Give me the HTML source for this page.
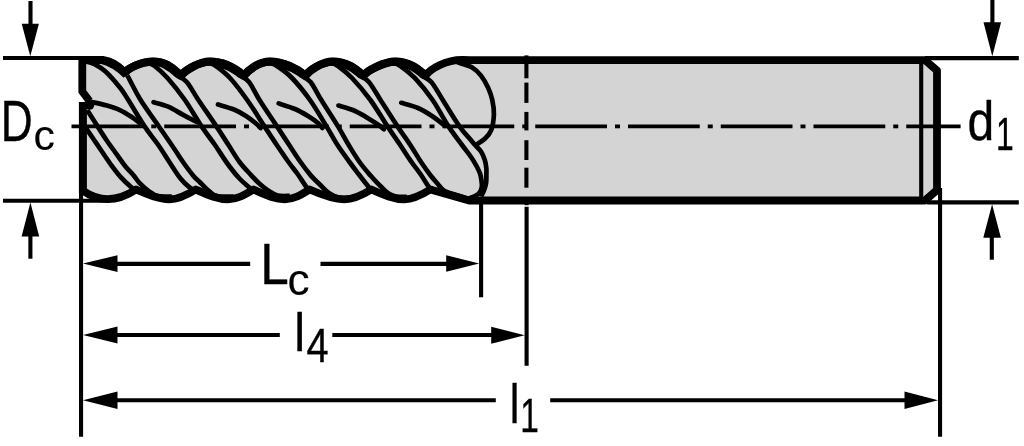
<!DOCTYPE html>
<html><head><meta charset="utf-8"><title>End mill dimensions</title>
<style>html,body{margin:0;padding:0;background:#fff;overflow:hidden}svg{display:block}text{font-family:"Liberation Sans",sans-serif}</style>
</head><body>
<svg width="1024" height="446" viewBox="0 0 1024 446">
<path d="M 82.3 60.2 L 104 60.2 Q 114.5 61.5 125.0 72.6 C 129.00 67.60 141.95 61.6 152.95 61.6 C 166.95 61.6 172.90 68.60 180.9 75.6 C 184.90 70.60 198.83 61.6 209.83 61.6 C 223.83 61.6 235.80 68.60 243.8 75.6 C 247.80 70.60 258.67 61.6 269.67 61.6 C 283.67 61.6 297.40 68.60 305.4 75.6 C 309.40 70.60 321.66 61.6 332.66 61.6 C 346.66 61.6 355.40 68.60 363.4 75.6 C 367.40 70.60 384.12 61.6 395.12 61.6 C 409.12 61.6 417.60 68.60 425.6 75.6 C 430 69.3 445.5 59.6 463 59.9 L 470 60.1 L 925 60.1 L 937.0 70.5 L 937.0 190 L 925 200.5 L 469 200.5 L 430.4 189.5 C 421.40 195.10 413.44 199.3 404.44 199.3 C 393.44 199.3 383.40 194.80 371.4 189.5 C 362.40 195.10 353.21 199.3 344.21 199.3 C 333.21 199.3 321.60 194.80 309.6 189.5 C 300.60 195.10 293.92 199.3 284.92 199.3 C 273.92 199.3 265.50 194.80 253.5 189.5 C 244.50 195.10 237.11 199.3 228.11 199.3 C 217.11 199.3 207.80 194.80 195.8 189.5 C 186.80 195.10 178.53 199.3 169.53 199.3 C 158.53 199.3 148.10 194.80 136.1 189.5 Q 108 208 83.3 191 L 82.3 103 L 88 98 L 82.3 92 Z" fill="#d4d4d4" stroke="none"/>
<path d="M 86.00 128.20 C 87.35 130.17 91.62 136.37 94.10 140.00 C 96.58 143.63 97.93 145.67 100.90 150.00 C 103.87 154.33 108.63 161.52 111.90 166.00 C 115.17 170.48 117.22 173.30 120.50 176.90 C 123.78 180.50 129.00 185.33 131.60 187.60 C 134.20 189.87 135.35 190.02 136.10 190.50 " fill="none" stroke="#000" stroke-width="4.7" stroke-linejoin="round" stroke-linecap="butt"/>
<path d="M 88.00 62.00 C 89.00 62.33 91.08 62.42 94.00 64.00 C 96.92 65.58 101.12 67.50 105.50 71.50 C 109.88 75.50 116.50 83.25 120.30 88.00 C 124.10 92.75 124.25 93.60 128.30 100.00 C 132.35 106.40 139.60 118.90 144.60 126.40 C 149.60 133.90 154.07 138.90 158.30 145.00 C 162.53 151.10 166.30 157.42 170.00 163.00 C 173.70 168.58 177.25 174.45 180.50 178.50 C 183.75 182.55 186.95 185.30 189.50 187.30 C 192.05 189.30 194.75 189.97 195.80 190.50 " fill="none" stroke="#000" stroke-width="4.7" stroke-linejoin="round" stroke-linecap="butt"/>
<path d="M 148.00 62.80 C 149.10 63.33 151.35 63.47 154.60 66.00 C 157.85 68.53 162.45 72.33 167.50 78.00 C 172.55 83.67 179.22 91.93 184.90 100.00 C 190.58 108.07 196.58 118.90 201.60 126.40 C 206.62 133.90 210.77 138.90 215.00 145.00 C 219.23 151.10 223.08 157.58 227.00 163.00 C 230.92 168.42 234.83 173.47 238.50 177.50 C 242.17 181.53 246.50 185.03 249.00 187.20 C 251.50 189.37 252.75 189.95 253.50 190.50 " fill="none" stroke="#000" stroke-width="4.7" stroke-linejoin="round" stroke-linecap="butt"/>
<path d="M 209.40 62.80 C 210.50 63.33 212.57 63.47 216.00 66.00 C 219.43 68.53 224.80 72.33 230.00 78.00 C 235.20 83.67 241.45 91.93 247.20 100.00 C 252.95 108.07 259.57 118.90 264.50 126.40 C 269.43 133.90 272.80 139.07 276.80 145.00 C 280.80 150.93 285.03 157.17 288.50 162.00 C 291.97 166.83 294.68 169.92 297.60 174.00 C 300.52 178.08 304.00 183.75 306.00 186.50 C 308.00 189.25 309.00 189.83 309.60 190.50 " fill="none" stroke="#000" stroke-width="4.7" stroke-linejoin="round" stroke-linecap="butt"/>
<path d="M 270.40 62.80 C 271.50 63.33 273.40 63.47 277.00 66.00 C 280.60 68.53 286.50 72.33 292.00 78.00 C 297.50 83.67 304.25 91.93 310.00 100.00 C 315.75 108.07 321.92 118.90 326.50 126.40 C 331.08 133.90 333.67 139.07 337.50 145.00 C 341.33 150.93 346.00 157.17 349.50 162.00 C 353.00 166.83 355.50 170.08 358.50 174.00 C 361.50 177.92 365.35 182.83 367.50 185.50 C 369.65 188.17 370.75 189.25 371.40 190.00 " fill="none" stroke="#000" stroke-width="4.7" stroke-linejoin="round" stroke-linecap="butt"/>
<path d="M 331.40 62.80 C 332.50 63.33 334.57 63.47 338.00 66.00 C 341.43 68.53 346.60 72.33 352.00 78.00 C 357.40 83.67 364.48 91.93 370.40 100.00 C 376.32 108.07 382.53 118.90 387.50 126.40 C 392.47 133.90 396.20 139.07 400.20 145.00 C 404.20 150.93 408.13 157.17 411.50 162.00 C 414.87 166.83 417.73 170.17 420.40 174.00 C 423.07 177.83 425.83 182.42 427.50 185.00 C 429.17 187.58 429.92 188.75 430.40 189.50 " fill="none" stroke="#000" stroke-width="4.7" stroke-linejoin="round" stroke-linecap="butt"/>
<path d="M 394.40 62.80 C 395.47 63.38 397.37 63.73 400.80 66.30 C 404.23 68.87 409.70 72.58 415.00 78.20 C 420.30 83.82 427.02 91.97 432.60 100.00 C 438.18 108.03 443.60 118.90 448.50 126.40 C 453.40 133.90 458.25 139.90 462.00 145.00 C 465.75 150.10 468.58 153.50 471.00 157.00 C 473.42 160.50 474.97 163.17 476.50 166.00 C 478.03 168.83 479.35 171.40 480.20 174.00 C 481.05 176.60 481.33 179.43 481.60 181.60 C 481.87 183.77 482.10 185.22 481.80 187.00 C 481.50 188.78 480.93 190.80 479.80 192.30 C 478.67 193.80 476.80 194.97 475.00 196.00 C 473.20 197.03 470.00 198.08 469.00 198.50 " fill="none" stroke="#000" stroke-width="4.7" stroke-linejoin="round" stroke-linecap="butt"/>
<path d="M 92.00 102.00 C 94.33 102.55 101.35 103.95 106.00 105.30 C 110.65 106.65 115.73 108.23 119.90 110.10 C 124.07 111.97 127.43 114.17 131.00 116.50 C 134.57 118.83 139.58 122.83 141.30 124.10 " fill="none" stroke="#000" stroke-width="4.7" stroke-linejoin="round" stroke-linecap="round"/>
<path d="M 153.50 102.20 C 155.93 102.95 163.23 104.63 168.10 106.70 C 172.97 108.77 178.02 112.08 182.70 114.60 C 187.38 117.12 193.95 120.60 196.20 121.80 " fill="none" stroke="#000" stroke-width="4.7" stroke-linejoin="round" stroke-linecap="round"/>
<path d="M 218.00 104.50 C 220.67 105.33 229.33 107.58 234.00 109.50 C 238.67 111.42 242.33 113.67 246.00 116.00 C 249.67 118.33 253.57 121.50 256.00 123.50 C 258.43 125.50 259.83 127.25 260.60 128.00 " fill="none" stroke="#000" stroke-width="4.7" stroke-linejoin="round" stroke-linecap="round"/>
<path d="M 278.60 103.40 C 281.33 104.33 290.10 106.90 295.00 109.00 C 299.90 111.10 304.17 113.67 308.00 116.00 C 311.83 118.33 315.60 121.00 318.00 123.00 C 320.40 125.00 321.67 127.17 322.40 128.00 " fill="none" stroke="#000" stroke-width="4.7" stroke-linejoin="round" stroke-linecap="round"/>
<path d="M 338.40 105.60 C 341.17 106.50 349.73 108.68 355.00 111.00 C 360.27 113.32 365.83 117.00 370.00 119.50 C 374.17 122.00 377.68 124.38 380.00 126.00 C 382.32 127.62 383.25 128.67 383.90 129.20 " fill="none" stroke="#000" stroke-width="4.7" stroke-linejoin="round" stroke-linecap="round"/>
<path d="M 401.20 102.80 C 404.00 103.67 412.87 105.80 418.00 108.00 C 423.13 110.20 427.50 113.03 432.00 116.00 C 436.50 118.97 442.83 124.17 445.00 125.80 " fill="none" stroke="#000" stroke-width="4.7" stroke-linejoin="round" stroke-linecap="round"/>
<path d="M 454.00 61.00 C 455.08 61.38 457.42 62.17 460.50 63.30 C 463.58 64.43 469.08 65.75 472.50 67.80 C 475.92 69.85 478.42 72.32 481.00 75.60 C 483.58 78.88 486.12 83.43 488.00 87.50 C 489.88 91.57 491.32 95.48 492.30 100.00 C 493.28 104.52 494.10 109.55 493.90 114.60 C 493.70 119.65 492.67 126.23 491.10 130.30 C 489.53 134.37 486.93 136.65 484.50 139.00 C 482.07 141.35 477.83 143.50 476.50 144.40 " fill="none" stroke="#000" stroke-width="4.7" stroke-linejoin="round" stroke-linecap="butt"/>
<path d="M 87.30 110.20 C 88.42 111.97 90.82 115.83 94.00 120.80 C 97.18 125.77 103.13 135.13 106.40 140.00 C 109.67 144.87 110.48 145.67 113.60 150.00 C 116.72 154.33 121.75 161.77 125.10 166.00 C 128.45 170.23 131.25 172.53 133.67 175.40 C 136.10 178.26 137.13 180.58 139.64 183.19 C 142.15 185.80 145.73 188.91 148.75 191.06 C 151.78 193.22 153.95 195.24 157.78 196.14 C 161.62 197.05 169.42 196.44 171.75 196.50 " fill="none" stroke="#000" stroke-width="4.7" stroke-linejoin="round" stroke-linecap="butt"/>
<path d="M 127.40 75.50 C 129.60 79.58 135.63 91.92 140.60 100.00 C 145.57 108.08 152.02 116.50 157.20 124.00 C 162.38 131.50 167.40 138.67 171.70 145.00 C 176.00 151.33 179.40 156.90 183.00 162.00 C 186.60 167.10 190.49 172.29 193.27 175.63 C 196.05 178.96 197.41 179.76 199.67 182.03 C 201.94 184.29 204.53 187.09 206.85 189.20 C 209.17 191.31 211.53 193.45 213.61 194.67 C 215.69 195.88 215.99 196.19 219.32 196.49 C 222.65 196.80 231.22 196.50 233.60 196.50 " fill="none" stroke="#000" stroke-width="4.7" stroke-linejoin="round" stroke-linecap="butt"/>
<path d="M 152.95 62.68 C 154.13 62.95 157.96 63.59 160.04 64.29 C 162.11 64.98 163.72 65.94 165.39 66.85 C 167.07 67.76 168.57 68.65 170.09 69.74 C 171.62 70.83 173.42 72.45 174.54 73.40 C 175.66 74.35 174.77 74.01 176.81 75.44 C 178.85 76.87 183.16 77.91 186.76 82.00 C 190.36 86.09 193.46 92.60 198.40 100.00 C 203.34 107.40 211.38 118.90 216.40 126.40 C 221.42 133.90 224.65 139.07 228.50 145.00 C 232.35 150.93 235.66 156.90 239.50 162.00 C 243.34 167.10 248.30 172.04 251.54 175.59 C 254.78 179.14 256.21 180.82 258.95 183.30 C 261.70 185.79 264.93 188.48 268.03 190.52 C 271.13 192.55 273.94 194.64 277.56 195.53 C 281.17 196.43 287.71 195.84 289.74 195.90 " fill="none" stroke="#000" stroke-width="4.7" stroke-linejoin="round" stroke-linecap="butt"/>
<path d="M 209.83 62.68 C 211.13 62.95 215.14 63.59 217.61 64.30 C 220.07 65.01 222.37 66.01 224.63 66.95 C 226.89 67.89 229.11 68.83 231.18 69.93 C 233.25 71.04 235.62 72.64 237.04 73.58 C 238.45 74.51 237.68 74.14 239.67 75.55 C 241.67 76.95 245.70 77.92 249.01 82.00 C 252.31 86.08 254.83 92.60 259.50 100.00 C 264.17 107.40 272.05 118.90 277.00 126.40 C 281.95 133.90 285.28 139.07 289.20 145.00 C 293.12 150.93 296.87 156.90 300.50 162.00 C 304.13 167.10 307.76 171.88 310.97 175.63 C 314.19 179.37 316.83 181.57 319.80 184.45 C 322.77 187.33 325.59 190.69 328.79 192.89 C 331.98 195.09 335.60 196.80 338.96 197.63 C 342.32 198.47 347.29 197.86 348.95 197.90 " fill="none" stroke="#000" stroke-width="4.7" stroke-linejoin="round" stroke-linecap="butt"/>
<path d="M 269.67 62.68 C 271.00 62.95 275.06 63.59 277.64 64.30 C 280.22 65.02 282.71 66.02 285.14 66.97 C 287.57 67.91 290.00 68.86 292.23 69.97 C 294.46 71.08 297.01 72.68 298.51 73.62 C 300.02 74.55 299.25 74.18 301.26 75.57 C 303.27 76.97 307.24 77.93 310.58 82.00 C 313.92 86.07 316.73 92.60 321.30 100.00 C 325.87 107.40 333.43 118.90 338.00 126.40 C 342.57 133.90 345.12 139.07 348.70 145.00 C 352.28 150.93 355.86 156.91 359.50 162.00 C 363.14 167.09 367.31 171.83 370.52 175.57 C 373.73 179.30 376.16 181.73 378.75 184.40 C 381.34 187.07 383.78 189.75 386.05 191.58 C 388.32 193.42 390.40 194.53 392.36 195.40 C 394.32 196.27 395.39 196.56 397.80 196.79 C 400.20 197.02 405.30 196.80 406.80 196.80 " fill="none" stroke="#000" stroke-width="4.7" stroke-linejoin="round" stroke-linecap="butt"/>
<path d="M 332.66 62.68 C 333.89 62.95 337.81 63.59 340.07 64.29 C 342.32 65.00 344.26 65.98 346.21 66.90 C 348.16 67.83 349.99 68.75 351.77 69.85 C 353.54 70.94 355.61 72.55 356.86 73.49 C 358.11 74.43 357.29 74.07 359.29 75.49 C 361.29 76.91 365.32 77.92 368.86 82.00 C 372.39 86.08 375.73 92.60 380.50 100.00 C 385.27 107.40 392.53 118.90 397.50 126.40 C 402.47 133.90 406.38 139.07 410.30 145.00 C 414.22 150.93 417.61 156.92 421.00 162.00 C 424.39 167.08 427.87 171.88 430.65 175.49 C 433.43 179.11 435.42 181.14 437.66 183.71 C 439.90 186.27 441.01 188.99 444.11 190.87 C 447.22 192.75 452.30 193.67 456.28 194.98 C 460.26 196.30 466.04 198.15 467.99 198.79 " fill="none" stroke="#000" stroke-width="4.7" stroke-linejoin="round" stroke-linecap="butt"/>
<path d="M 395.12 62.68 C 396.35 62.95 400.26 63.59 402.50 64.29 C 404.74 65.00 406.64 65.98 408.56 66.90 C 410.49 67.82 412.29 68.74 414.05 69.84 C 415.80 70.94 417.84 72.54 419.08 73.49 C 420.32 74.43 419.46 74.07 421.50 75.49 C 423.53 76.91 427.76 77.91 431.31 82.00 C 434.86 86.09 438.10 92.60 442.80 100.00 C 447.50 107.40 454.97 119.90 459.50 126.40 C 464.03 132.90 467.42 135.90 470.00 139.00 C 472.58 142.10 473.17 142.92 475.00 145.00 C 476.83 147.08 479.37 149.00 481.00 151.50 C 482.63 154.00 483.92 157.25 484.80 160.00 C 485.68 162.75 486.03 165.67 486.30 168.00 C 486.57 170.33 486.43 171.53 486.40 174.00 C 486.37 176.47 486.50 180.07 486.10 182.80 C 485.70 185.53 484.85 188.12 484.00 190.40 C 483.15 192.68 481.50 195.48 481.00 196.50 " fill="none" stroke="#000" stroke-width="4.7" stroke-linejoin="round" stroke-linecap="butt"/>
<path d="M 101 61.5 Q 113.5 64.5 125.3 76.0" fill="none" stroke="#000" stroke-width="4.7" stroke-linejoin="round" stroke-linecap="butt"/>
<path d="M 82.3 60.2 L 104 60.2 Q 114.5 61.5 125.0 72.6 C 129.00 67.60 141.95 61.6 152.95 61.6 C 166.95 61.6 172.90 68.60 180.9 75.6 C 184.90 70.60 198.83 61.6 209.83 61.6 C 223.83 61.6 235.80 68.60 243.8 75.6 C 247.80 70.60 258.67 61.6 269.67 61.6 C 283.67 61.6 297.40 68.60 305.4 75.6 C 309.40 70.60 321.66 61.6 332.66 61.6 C 346.66 61.6 355.40 68.60 363.4 75.6 C 367.40 70.60 384.12 61.6 395.12 61.6 C 409.12 61.6 417.60 68.60 425.6 75.6 C 430 69.3 445.5 59.6 463 59.9 L 470 60.1 L 925 60.1 L 937.0 70.5 L 937.0 190 L 925 200.5 L 469 200.5 L 430.4 189.5 C 421.40 195.10 413.44 199.3 404.44 199.3 C 393.44 199.3 383.40 194.80 371.4 189.5 C 362.40 195.10 353.21 199.3 344.21 199.3 C 333.21 199.3 321.60 194.80 309.6 189.5 C 300.60 195.10 293.92 199.3 284.92 199.3 C 273.92 199.3 265.50 194.80 253.5 189.5 C 244.50 195.10 237.11 199.3 228.11 199.3 C 217.11 199.3 207.80 194.80 195.8 189.5 C 186.80 195.10 178.53 199.3 169.53 199.3 C 158.53 199.3 148.10 194.80 136.1 189.5 Q 108 208 83.3 191 " fill="none" stroke="#000" stroke-width="7.8" stroke-linejoin="round" stroke-linecap="butt"/>
<path d="M 125.0 72.6 C 129.00 67.60 141.95 61.6 152.95 61.6 C 166.95 61.6 172.90 68.60 180.9 75.6 C 184.90 70.60 198.83 61.6 209.83 61.6 C 223.83 61.6 235.80 68.60 243.8 75.6 C 247.80 70.60 258.67 61.6 269.67 61.6 C 283.67 61.6 297.40 68.60 305.4 75.6 C 309.40 70.60 321.66 61.6 332.66 61.6 C 346.66 61.6 355.40 68.60 363.4 75.6 C 367.40 70.60 384.12 61.6 395.12 61.6 C 409.12 61.6 417.60 68.60 425.6 75.6 " fill="none" stroke="#000" stroke-width="8.3" stroke-linejoin="round" stroke-linecap="butt"/>
<path d="M 82.3 57 L 82.3 91.5 L 89.5 101" fill="none" stroke="#000" stroke-width="7.8" stroke-linejoin="miter" stroke-linecap="butt"/>
<path d="M 82.89999999999999 102 L 82.89999999999999 193" fill="none" stroke="#000" stroke-width="8.0" stroke-linejoin="round" stroke-linecap="butt"/>
<circle cx="89.5" cy="105" r="4.8" fill="#000"/>
<line x1="921.2" y1="60.1" x2="921.2" y2="200.5" stroke="#000" stroke-width="4.1" />
<line x1="71.5" y1="126.4" x2="143.25" y2="126.4" stroke="#000" stroke-width="3.8" />
<line x1="151.25" y1="126.4" x2="156.25" y2="126.4" stroke="#000" stroke-width="3.8" />
<line x1="164.25" y1="126.4" x2="236.0" y2="126.4" stroke="#000" stroke-width="3.8" />
<line x1="244.0" y1="126.4" x2="249.0" y2="126.4" stroke="#000" stroke-width="3.8" />
<line x1="257.0" y1="126.4" x2="328.75" y2="126.4" stroke="#000" stroke-width="3.8" />
<line x1="336.75" y1="126.4" x2="341.75" y2="126.4" stroke="#000" stroke-width="3.8" />
<line x1="349.75" y1="126.4" x2="421.5" y2="126.4" stroke="#000" stroke-width="3.8" />
<line x1="429.5" y1="126.4" x2="434.5" y2="126.4" stroke="#000" stroke-width="3.8" />
<line x1="442.5" y1="126.4" x2="514.25" y2="126.4" stroke="#000" stroke-width="3.8" />
<line x1="522.25" y1="126.4" x2="527.25" y2="126.4" stroke="#000" stroke-width="3.8" />
<line x1="535.25" y1="126.4" x2="607.0" y2="126.4" stroke="#000" stroke-width="3.8" />
<line x1="615.0" y1="126.4" x2="620.0" y2="126.4" stroke="#000" stroke-width="3.8" />
<line x1="628.0" y1="126.4" x2="699.75" y2="126.4" stroke="#000" stroke-width="3.8" />
<line x1="707.75" y1="126.4" x2="712.75" y2="126.4" stroke="#000" stroke-width="3.8" />
<line x1="720.75" y1="126.4" x2="792.5" y2="126.4" stroke="#000" stroke-width="3.8" />
<line x1="800.5" y1="126.4" x2="805.5" y2="126.4" stroke="#000" stroke-width="3.8" />
<line x1="813.5" y1="126.4" x2="885.25" y2="126.4" stroke="#000" stroke-width="3.8" />
<line x1="893.25" y1="126.4" x2="898.25" y2="126.4" stroke="#000" stroke-width="3.8" />
<line x1="906.25" y1="126.4" x2="960.6" y2="126.4" stroke="#000" stroke-width="3.8" />
<line x1="3" y1="58.0" x2="104" y2="58.0" stroke="#000" stroke-width="4.1" />
<line x1="3" y1="200.7" x2="110" y2="200.7" stroke="#000" stroke-width="4.1" />
<line x1="925" y1="58.1" x2="1018.8" y2="58.1" stroke="#000" stroke-width="4.1" />
<line x1="927" y1="202.4" x2="1018.8" y2="202.4" stroke="#000" stroke-width="4.1" />
<line x1="81.05" y1="188" x2="81.05" y2="436.7" stroke="#000" stroke-width="4.1" />
<line x1="940.05" y1="188" x2="940.05" y2="436.7" stroke="#000" stroke-width="4.1" />
<line x1="481.1" y1="200" x2="481.1" y2="297.3" stroke="#000" stroke-width="4.1" />
<line x1="526.6" y1="206.8" x2="526.6" y2="365.7" stroke="#000" stroke-width="4.1" />
<line x1="526.6" y1="200" x2="526.6" y2="205.2" stroke="#000" stroke-width="4.1" />
<line x1="526.4" y1="55.4" x2="526.4" y2="78.3" stroke="#000" stroke-width="4.1" />
<line x1="526.4" y1="82.6" x2="526.4" y2="102.9" stroke="#000" stroke-width="4.1" />
<line x1="526.4" y1="111.9" x2="526.4" y2="130.4" stroke="#000" stroke-width="4.1" />
<line x1="526.4" y1="140.2" x2="526.4" y2="160" stroke="#000" stroke-width="4.1" />
<line x1="526.4" y1="167.7" x2="526.4" y2="187.7" stroke="#000" stroke-width="4.1" />
<line x1="30.5" y1="1" x2="30.5" y2="25" stroke="#000" stroke-width="4.1" />
<polygon points="30.30,56.30 21.70,23.80 38.90,23.80" fill="#000"/>
<line x1="30.4" y1="235" x2="30.4" y2="258.7" stroke="#000" stroke-width="4.1" />
<polygon points="30.40,202.50 39.20,236.50 21.60,236.50" fill="#000"/>
<line x1="992.4" y1="0" x2="992.4" y2="23" stroke="#000" stroke-width="4.1" />
<polygon points="992.30,56.30 983.50,22.30 1001.10,22.30" fill="#000"/>
<line x1="991.8" y1="236" x2="991.8" y2="259.7" stroke="#000" stroke-width="4.1" />
<polygon points="992.10,204.30 1000.90,237.80 983.30,237.80" fill="#000"/>
<line x1="115" y1="263.9" x2="250.2" y2="263.9" stroke="#000" stroke-width="4.1" />
<line x1="320.5" y1="263.9" x2="448" y2="263.9" stroke="#000" stroke-width="4.1" />
<polygon points="83.00,263.60 117.50,255.30 117.50,271.90" fill="#000"/>
<polygon points="479.20,263.50 446.20,271.80 446.20,255.20" fill="#000"/>
<line x1="115" y1="335.0" x2="279.8" y2="335.0" stroke="#000" stroke-width="4.1" />
<line x1="332.3" y1="335.0" x2="493" y2="335.0" stroke="#000" stroke-width="4.1" />
<polygon points="83.00,335.00 117.50,326.50 117.50,343.50" fill="#000"/>
<polygon points="524.70,335.30 491.20,343.80 491.20,326.80" fill="#000"/>
<line x1="115" y1="400.3" x2="495.8" y2="400.3" stroke="#000" stroke-width="4.1" />
<line x1="550.2" y1="400.3" x2="906" y2="400.3" stroke="#000" stroke-width="4.1" />
<polygon points="83.00,400.30 117.50,391.50 117.50,409.10" fill="#000"/>
<polygon points="938.00,400.30 904.50,409.10 904.50,391.50" fill="#000"/>
<g opacity="0.999">
<text transform="translate(0.76 141.00) scale(0.7702 1)" font-family="'Liberation Sans', sans-serif" font-size="57.39" fill="#000" stroke="#000" stroke-width="0.4">D</text>
<text transform="translate(33.62 150.33) scale(1.0144 1)" font-family="'Liberation Sans', sans-serif" font-size="42.18" fill="#000" stroke="#000" stroke-width="0.1">c</text>
<text transform="translate(260.30 284.30) scale(0.8883 1)" font-family="'Liberation Sans', sans-serif" font-size="57.68" fill="#000" stroke="#000" stroke-width="0.4">L</text>
<text transform="translate(287.56 294.71) scale(1.0001 1)" font-family="'Liberation Sans', sans-serif" font-size="44.18" fill="#000" stroke="#000" stroke-width="0.1">c</text>
<text transform="translate(294.22 351.30) scale(0.8973 1)" font-family="'Liberation Sans', sans-serif" font-size="54.48" fill="#000" stroke="#000" stroke-width="0.4">l</text>
<text transform="translate(306.60 361.50) scale(0.8297 1)" font-family="'Liberation Sans', sans-serif" font-size="47.97" fill="#000" stroke="#000" stroke-width="0.4">4</text>
<text transform="translate(509.78 422.70) scale(0.7934 1)" font-family="'Liberation Sans', sans-serif" font-size="54.62" fill="#000" stroke="#000" stroke-width="0.4">l</text>
<text transform="translate(520.29 431.50) scale(0.6981 1)" font-family="'Liberation Sans', sans-serif" font-size="47.97" fill="#000" stroke="#000" stroke-width="0.4">1</text>
<text transform="translate(967.38 140.25) scale(0.8733 1)" font-family="'Liberation Sans', sans-serif" font-size="54.97" fill="#000" stroke="#000" stroke-width="0.4">d</text>
<text transform="translate(995.91 150.20) scale(0.6764 1)" font-family="'Liberation Sans', sans-serif" font-size="47.10" fill="#000" stroke="#000" stroke-width="0.4">1</text>
</g>
</svg>
</body></html>
